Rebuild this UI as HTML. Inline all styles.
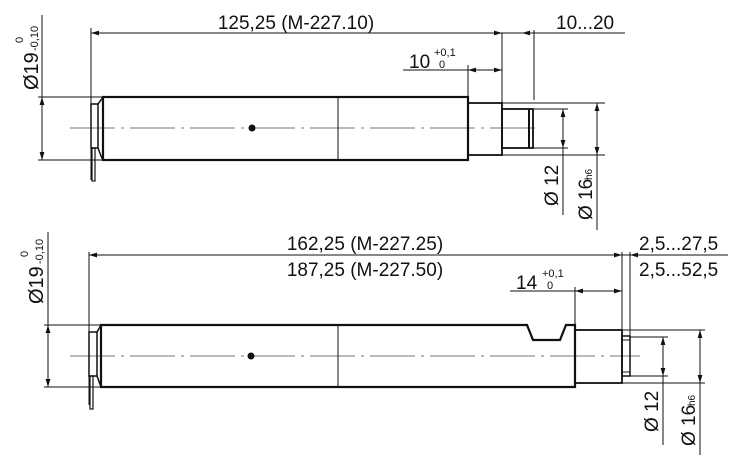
<!DOCTYPE html>
<html><head><meta charset="utf-8"><style>
html,body{margin:0;padding:0;background:#fff}
svg{display:block}
text{font-family:"Liberation Sans",Arial,sans-serif;fill:#111}
</style></head><body>
<svg width="750" height="466" viewBox="0 0 750 466" xmlns="http://www.w3.org/2000/svg">
<defs>
<marker id="a" viewBox="0 0 10 6" refX="10" refY="3" markerWidth="8" markerHeight="5" orient="auto-start-reverse" markerUnits="userSpaceOnUse"><path d="M0,0 L10,3 L0,6 z" fill="#111"/></marker>
</defs>
<g stroke="#111" fill="none" stroke-width="1">
<line x1="70" y1="128" x2="540" y2="128" stroke="#777" stroke-dasharray="45,6,3,6"/>
<circle cx="252" cy="128" r="3.5" fill="#111" stroke="none"/>
<rect x="103" y="97" width="365" height="63" stroke-width="2.2"/>
<line x1="338" y1="97" x2="338" y2="160"/>
<rect x="468" y="103" width="34" height="52" stroke-width="1.8"/>
<rect x="502" y="109" width="31" height="39" stroke-width="1.8"/>
<line x1="529" y1="109" x2="529" y2="148" stroke-width="2"/>
<rect x="91" y="104" width="7" height="44" stroke-width="1.5"/>
<path d="M98,104 L101,100 L103,97 M98,148 L101,156 L103,160" stroke-width="1.5"/>
<rect x="92" y="148" width="3" height="33" stroke-width="1.2"/>
<line x1="91" y1="28" x2="91" y2="180"/>
<line x1="91" y1="33" x2="502" y2="33" marker-start="url(#a)" marker-end="url(#a)"/>
<line x1="502" y1="33" x2="625" y2="33"/>
<line x1="534" y1="33" x2="522" y2="33" marker-end="url(#a)"/>
<line x1="502" y1="33" x2="502" y2="103"/>
<line x1="534" y1="30" x2="534" y2="100"/>
<line x1="403" y1="70" x2="502" y2="70"/>
<line x1="468" y1="70" x2="502" y2="70" marker-start="url(#a)" marker-end="url(#a)"/>
<line x1="468" y1="65" x2="468" y2="103"/>
<line x1="534" y1="109" x2="568" y2="109"/>
<line x1="534" y1="148" x2="568" y2="148"/>
<line x1="563" y1="109" x2="563" y2="148" marker-start="url(#a)" marker-end="url(#a)"/>
<line x1="563" y1="148" x2="563" y2="215"/>
<line x1="502" y1="103" x2="605" y2="103"/>
<line x1="502" y1="155" x2="605" y2="155"/>
<line x1="597" y1="103" x2="597" y2="155" marker-start="url(#a)" marker-end="url(#a)"/>
<line x1="597" y1="155" x2="597" y2="230"/>
<line x1="38" y1="97" x2="103" y2="97"/>
<line x1="38" y1="160" x2="103" y2="160"/>
<line x1="42" y1="97" x2="42" y2="160" marker-start="url(#a)" marker-end="url(#a)"/>
<line x1="42" y1="15" x2="42" y2="97"/>
<line x1="70" y1="356" x2="640" y2="356" stroke="#777" stroke-dasharray="45,6,3,6"/>
<circle cx="251" cy="356" r="3.5" fill="#111" stroke="none"/>
<path d="M101,325 L527,325 L533,340 L560,340 L566,325 L575,325 L575,387 L101,387 Z" stroke-width="2.2"/>
<line x1="338" y1="325" x2="338" y2="387"/>
<rect x="575" y="330" width="47" height="53" stroke-width="1.8"/>
<rect x="622" y="336" width="8" height="40" stroke-width="1.5"/>
<line x1="622" y1="340" x2="630" y2="340"/>
<line x1="622" y1="372" x2="630" y2="372"/>
<rect x="89" y="332" width="8" height="44" stroke-width="1.5"/>
<path d="M97,332 L101,325 M97,376 L101,387" stroke-width="1.5"/>
<rect x="90" y="376" width="3" height="33" stroke-width="1.2"/>
<line x1="89" y1="252" x2="89" y2="405"/>
<line x1="89" y1="255" x2="622" y2="255" marker-start="url(#a)" marker-end="url(#a)"/>
<line x1="622" y1="255" x2="728" y2="255"/>
<line x1="630" y1="255" x2="642" y2="255" marker-start="url(#a)"/>
<line x1="622" y1="252" x2="622" y2="330"/>
<line x1="630" y1="252" x2="630" y2="336"/>
<line x1="510" y1="291" x2="622" y2="291"/>
<line x1="575" y1="291" x2="622" y2="291" marker-start="url(#a)" marker-end="url(#a)"/>
<line x1="575" y1="287" x2="575" y2="325"/>
<line x1="630" y1="337" x2="668" y2="337"/>
<line x1="630" y1="376" x2="668" y2="376"/>
<line x1="663" y1="337" x2="663" y2="376" marker-start="url(#a)" marker-end="url(#a)"/>
<line x1="663" y1="376" x2="663" y2="445"/>
<line x1="622" y1="330" x2="705" y2="330"/>
<line x1="622" y1="383" x2="705" y2="383"/>
<line x1="700" y1="330" x2="700" y2="383" marker-start="url(#a)" marker-end="url(#a)"/>
<line x1="700" y1="383" x2="700" y2="455"/>
<line x1="44" y1="325" x2="101" y2="325"/>
<line x1="44" y1="387" x2="101" y2="387"/>
<line x1="48" y1="325" x2="48" y2="387" marker-start="url(#a)" marker-end="url(#a)"/>
<line x1="48" y1="232" x2="48" y2="325"/>
</g>
<text x="296" y="29" font-size="19" text-anchor="middle">125,25 (M-227.10)</text>
<text x="556" y="29" font-size="19">10...20</text>
<text x="409" y="68" font-size="19">10</text>
<text x="434" y="56" font-size="11">+0,1</text>
<text x="439" y="68" font-size="11">0</text>
<text transform="translate(38,90) rotate(-90)" font-size="20">Ø19</text>
<text transform="translate(38,51) rotate(-90)" font-size="11">-0,10</text>
<text transform="translate(23,43) rotate(-90)" font-size="11">0</text>
<text transform="translate(558,206) rotate(-90)" font-size="19">Ø 12</text>
<text transform="translate(592,220) rotate(-90)" font-size="19">Ø 16</text>
<text transform="translate(592,180) rotate(-90)" font-size="10">h6</text>

<text x="365" y="250" font-size="19" text-anchor="middle">162,25 (M-227.25)</text>
<text x="365" y="276" font-size="19" text-anchor="middle">187,25 (M-227.50)</text>
<text x="639" y="250" font-size="19">2,5...27,5</text>
<text x="639" y="276" font-size="19">2,5...52,5</text>
<text x="516" y="289" font-size="19">14</text>
<text x="542" y="277" font-size="11">+0,1</text>
<text x="547" y="289" font-size="11">0</text>
<text transform="translate(43,304) rotate(-90)" font-size="20">Ø19</text>
<text transform="translate(43,264) rotate(-90)" font-size="11">-0,10</text>
<text transform="translate(28,257) rotate(-90)" font-size="11">0</text>
<text transform="translate(658,432) rotate(-90)" font-size="19">Ø 12</text>
<text transform="translate(695,446) rotate(-90)" font-size="19">Ø 16</text>
<text transform="translate(695,406) rotate(-90)" font-size="10">h6</text>
</svg>
</body></html>
